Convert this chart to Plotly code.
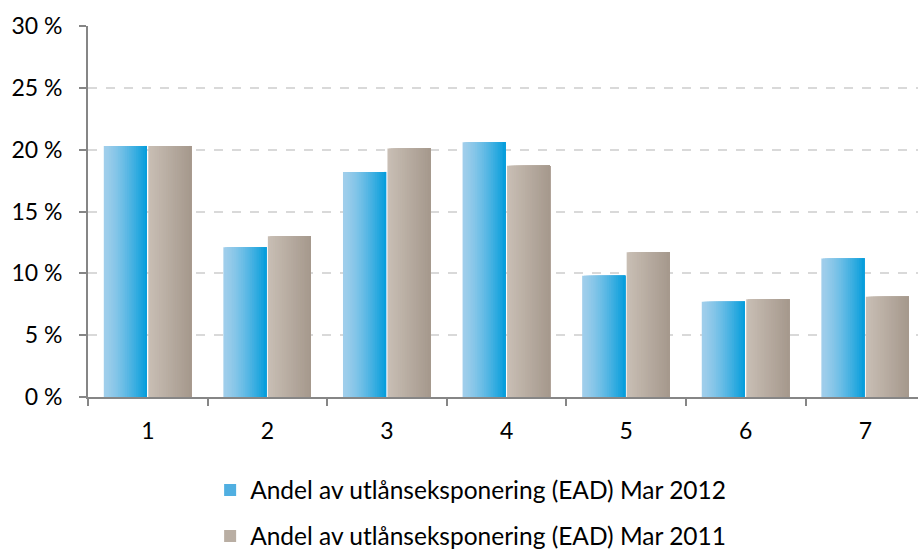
import plotly.graph_objects as go

categories = ["1", "2", "3", "4", "5", "6", "7"]
values_2012 = [20.3, 12.1, 18.2, 20.6, 9.8, 7.7, 11.2]
values_2011 = [20.3, 13.0, 20.1, 18.7, 11.7, 7.9, 8.1]
name_2012 = "Andel av utlånseksponering (EAD) Mar 2012"
name_2011 = "Andel av utlånseksponering (EAD) Mar 2011"

FONT = "Lato"
N_STRIPS = 24
BAR_W = 0.36


def lerp(c1, c2, t):
    return "rgb(%d,%d,%d)" % tuple(round(a + (b - a) * t) for a, b in zip(c1, c2))


def gradient_traces(values, offset0, c_left, c_right, gamma):
    traces = []
    w = BAR_W / N_STRIPS
    for k in range(N_STRIPS):
        t = (k / (N_STRIPS - 1)) ** gamma
        traces.append(go.Bar(
            x=categories, y=values,
            offset=offset0 + k * w, width=BAR_W - k * w,
            marker=dict(color=lerp(c_left, c_right, t), line=dict(width=0)),
            showlegend=False, hoverinfo="skip",
        ))
    return traces


fig = go.Figure()
for tr in gradient_traces(values_2012, -0.368, (160, 206, 235), (8, 158, 220), 1.3):
    fig.add_trace(tr)
for tr in gradient_traces(values_2011, 0.004, (200, 190, 180), (166, 153, 141), 1.0):
    fig.add_trace(tr)

# legend entries
fig.add_trace(go.Bar(x=[None], y=[None], name=name_2012,
                     marker=dict(color="rgb(80,175,225)", line=dict(width=0)),
                     legend="legend"))
fig.add_trace(go.Bar(x=[None], y=[None], name=name_2011,
                     marker=dict(color="rgb(185,174,163)", line=dict(width=0)),
                     legend="legend2"))

axis_col = "#868686"
TXT = dict(family=FONT, size=23, color="#000000")
LEG = dict(family=FONT, size=24.5, color="#000000")
fig.update_layout(
    width=919, height=549,
    margin=dict(l=88, r=1, t=26, b=152, autoexpand=False),
    paper_bgcolor="white", plot_bgcolor="white",
    barmode="overlay",
    font=TXT,
    xaxis=dict(
        type="category", range=[-0.5, 6.44],
        tickson="boundaries", ticks="outside", ticklen=7, tickwidth=2,
        tickcolor=axis_col, showline=True, linecolor=axis_col, linewidth=2,
        showgrid=False, ticklabelstandoff=12, tickfont=TXT,
    ),
    yaxis=dict(
        range=[0, 30], dtick=5, tick0=0, ticksuffix=" %",
        ticks="outside", ticklen=7, tickwidth=2, tickcolor=axis_col,
        showline=True, linecolor=axis_col, linewidth=2,
        showgrid=True, gridcolor="#d9d9d9", gridwidth=1.5, griddash="dash",
        zeroline=False, ticklabelstandoff=12, tickfont=TXT,
    ),
    legend=dict(x=0.461, xanchor="center", yref="container", y=1 - 490 / 549,
                yanchor="middle", font=LEG, bgcolor="rgba(0,0,0,0)"),
    legend2=dict(x=0.461, xanchor="center", yref="container", y=1 - 536 / 549,
                 yanchor="middle", font=LEG, bgcolor="rgba(0,0,0,0)"),
    hovermode=False,
)

fig.write_html("out.html", config={"displayModeBar": False},
               post_script="document.body.style.margin='0';document.body.style.overflow='hidden';")
